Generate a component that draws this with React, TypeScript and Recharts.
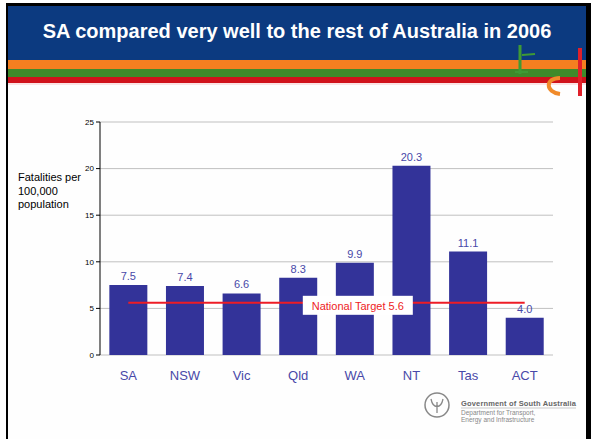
import {
  BarChart,
  Bar,
  Line,
  XAxis,
  YAxis,
  CartesianGrid,
  LabelList,
  ReferenceDot,
} from "recharts";

const states = ["SA", "NSW", "Vic", "Qld", "WA", "NT", "Tas", "ACT"];
const fatalities = [7.5, 7.4, 6.6, 8.3, 9.9, 20.3, 11.1, 4.0];
const nationalTarget = 5.6;
const yTicks = [0, 5, 10, 15, 20, 25];
const edgeTicks = [0, 1, 2, 3, 4, 5, 6, 7, 8];

const data = states.map((s, i) => ({
  state: s,
  value: fatalities[i],
  target: nationalTarget,
}));

const barBlue = "#333399";
const labelBlue = "#4848a8";

function TargetLabel(props: any) {
  const { viewBox } = props;
  const cx = viewBox?.x ?? 0;
  const cy = viewBox?.y ?? 0;
  return (
    <g>
      <rect x={cx - 52} y={cy - 7} width={110} height={19} fill="#ffffff" />
      <text
        x={cx + 3}
        y={cy + 7}
        textAnchor="middle"
        fill="#ee1c25"
        fontSize={11}
        fontFamily="Liberation Sans, Arial, sans-serif"
      >
        National Target {nationalTarget}
      </text>
    </g>
  );
}

export default function App() {
  return (
    <div
      style={{
        position: "absolute",
        left: 0,
        top: 0,
        width: 591,
        height: 439,
        background: "#ffffff",
        fontFamily: "Liberation Sans, Arial, sans-serif",
        overflow: "hidden",
      }}
    >
      {/* slide frame + header */}
      <div style={{ position: "absolute", left: 6, top: 3, width: 585, height: 436, background: "#000" }} />
      <div style={{ position: "absolute", left: 8, top: 6, width: 578, height: 433, background: "#fefefe" }} />
      <div style={{ position: "absolute", left: 8, top: 6, width: 578, height: 54, background: "#0c3a80" }} />
      <div style={{ position: "absolute", left: 8, top: 60, width: 578, height: 9, background: "#f47f20" }} />
      <div style={{ position: "absolute", left: 8, top: 69, width: 578, height: 8, background: "#3f8a2a" }} />
      <div style={{ position: "absolute", left: 8, top: 77, width: 578, height: 6, background: "#d0121b" }} />
      <div style={{ position: "absolute", left: 8, top: 83, width: 578, height: 2, background: "#fbe3e4" }} />
      <div
        style={{
          position: "absolute",
          left: 8,
          top: 20,
          width: 578,
          textAlign: "center",
          color: "#ffffff",
          fontWeight: "bold",
          fontSize: 20,
        }}
      >
        SA compared very well to the rest of Australia in 2006
      </div>
      <svg style={{ position: "absolute", left: 0, top: 0 }} width={591} height={439}>
        <path d="M520 45 L520 74" stroke="#3f9a35" strokeWidth={3} />
        <path d="M522 55 L535 54" stroke="#3f9a35" strokeWidth={2} />
        <path d="M515 72 L528 72" stroke="#3f9a35" strokeWidth={2} />
        <path d="M560 78 C545 78 545 92 560 94" stroke="#f08a2a" strokeWidth={4} fill="none" />
        <path d="M580 48 L580 96" stroke="#e0202a" strokeWidth={4} />
        <circle cx={437} cy={405} r={12} fill="none" stroke="#888" strokeWidth={1.5} />
        <path d="M431 399 C433 409 441 409 443 399 M437 402 L437 413" stroke="#888" strokeWidth={1.3} fill="none" />
        <text x={461} y={406} fontSize={7.5} fontWeight="bold" fill="#666" textLength={115}>
          Government of South Australia
        </text>
        <line x1={461} y1={408} x2={576} y2={408} stroke="#aaa" strokeWidth={0.6} />
        <text x={461} y={415} fontSize={6.5} fill="#888">Department for Transport,</text>
        <text x={461} y={422} fontSize={6.5} fill="#888">Energy and Infrastructure</text>
      </svg>

      <div
        style={{
          position: "absolute",
          left: 18,
          top: 171,
          fontSize: 11,
          lineHeight: "13.5px",
          color: "#000",
        }}
      >
        Fatalities per
        <br />
        100,000
        <br />
        population
      </div>

      <div style={{ position: "absolute", left: 0, top: 0 }}>
        <BarChart
          width={591}
          height={439}
          data={data}
          margin={{ top: 122, right: 38, left: 80, bottom: 54 }}
          barCategoryGap="16.5%"
        >
          <CartesianGrid stroke="#c0c0c0" vertical={false} />
          <XAxis
            xAxisId="edges"
            type="number"
            domain={[0, 8]}
            ticks={edgeTicks}
            height={0}
            tickFormatter={() => ""}
            axisLine={{ stroke: "#000" }}
            tickLine={{ stroke: "#000" }}
            tickSize={5}
            interval={0}
          />
          <XAxis
            dataKey="state"
            height={30}
            axisLine={false}
            tickLine={false}
            interval={0}
            tick={{ fill: labelBlue, fontSize: 13, dy: 8 }}
          />
          <YAxis
            domain={[0, 25]}
            ticks={yTicks}
            width={20}
            interval={0}
            axisLine={{ stroke: "#000" }}
            tickLine={{ stroke: "#000" }}
            tickSize={4}
            tick={{ fill: "#000", fontSize: 8 }}
          />
          <YAxis
            yAxisId="right"
            orientation="right"
            domain={[0, 25]}
            width={0}
            tick={false}
            tickLine={false}
            axisLine={{ stroke: "#a0a0a0" }}
          />
          <Bar dataKey="value" fill={barBlue} isAnimationActive={false}>
            <LabelList
              dataKey="value"
              position="top"
              offset={5}
              fill={labelBlue}
              fontSize={11}
              formatter={(v: any) => Number(v).toFixed(1)}
            />
          </Bar>
          <Line
            dataKey="target"
            stroke="#ee1c25"
            strokeWidth={2}
            dot={false}
            activeDot={false}
            isAnimationActive={false}
          />
          <ReferenceDot
            x="WA"
            y={nationalTarget}
            r={0}
            fill="none"
            stroke="none"
            label={<TargetLabel />}
          />
        </BarChart>
      </div>
    </div>
  );
}
